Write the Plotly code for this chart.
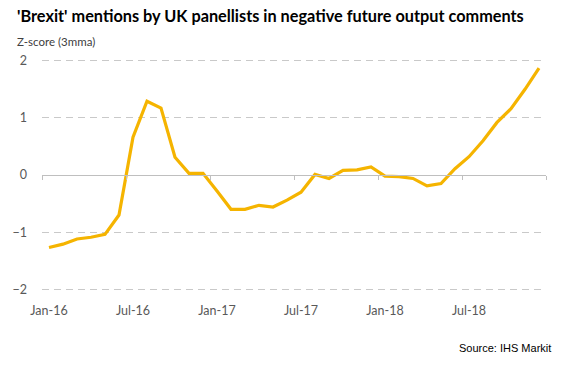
import plotly.graph_objects as go

months = ["Jan","Feb","Mar","Apr","May","Jun","Jul","Aug","Sep","Oct","Nov","Dec"]
categories = [f"{m}-{y}" for y in ("16", "17", "18") for m in months]
zscore = [-1.27, -1.21, -1.12, -1.09, -1.04, -0.70, 0.66, 1.29, 1.17, 0.31, 0.03, 0.03,
          -0.28, -0.60, -0.60, -0.53, -0.56, -0.44, -0.30, 0.01, -0.06, 0.08, 0.09, 0.14,
          -0.02, -0.03, -0.06, -0.19, -0.15, 0.11, 0.32, 0.60, 0.92, 1.16, 1.50, 1.87]
tick_labels = ["Jan-16", "Jul-16", "Jan-17", "Jul-17", "Jan-18", "Jul-18"]
y_ticks = [-2, -1, 0, 1, 2]

W, H = 566, 369
pad = 0.03
ppu = 57.0
ml, mr = 34, 20
mt = 61 - pad * ppu
mb = H - 289 - pad * ppu
pw = W - ml - mr
ph = H - mt - mb

x = list(range(len(categories)))
tickpos = [categories.index(t) for t in tick_labels]

fig = go.Figure()
fig.add_trace(go.Scatter(x=x, y=zscore, mode="lines",
                         line=dict(color="#F5B400", width=3.2),
                         hoverinfo="skip", showlegend=False))
fig.add_trace(go.Scatter(x=[-0.5, len(categories) - 0.5], y=[0, 0], xaxis="x2",
                         mode="lines", line=dict(width=0), hoverinfo="skip",
                         showlegend=False))

lab_font = dict(family="Lato, Carlito, Calibri, sans-serif", size=12.5, color="#595959")

fig.update_layout(
    width=W, height=H,
    margin=dict(l=ml, r=mr, t=mt, b=mb),
    paper_bgcolor="white", plot_bgcolor="white",
    xaxis=dict(range=[-0.5, len(categories) - 0.5], tickmode="array",
               tickvals=tickpos, ticktext=tick_labels, showgrid=False,
               zeroline=False, showline=False, ticks="",
               ticklabelstandoff=10,
               tickfont=lab_font, fixedrange=True),
    xaxis2=dict(range=[-0.5, len(categories) - 0.5], overlaying="x",
                anchor="free", position=0.5, side="bottom",
                tickmode="array",
                tickvals=[p - 0.5 for p in tickpos] + [len(categories) - 0.5],
                showticklabels=False, ticks="outside", ticklen=4,
                tickcolor="#BFBFBF", showline=True, linecolor="#BFBFBF",
                linewidth=1, showgrid=False, zeroline=False, fixedrange=True),
    yaxis=dict(range=[-2 - pad, 2 + pad], tickmode="array", tickvals=y_ticks,
               showgrid=True, gridcolor="#C9C9C9", griddash="7px,5px",
               gridwidth=1, zeroline=False, showline=False,
               ticklabelstandoff=14, tickfont=lab_font, fixedrange=True),
)

fig.add_annotation(text="<b>'Brexit' mentions by UK panellists in negative future output comments</b>",
                   xref="paper", yref="paper", x=(7 - ml) / pw, y=1 + (mt - 16) / ph,
                   xanchor="left", yanchor="middle", showarrow=False,
                   font=dict(family="Lato, Carlito, Calibri, sans-serif", size=16.3, color="#000000"))
fig.add_annotation(text="Z-score (3mma)",
                   xref="paper", yref="paper", x=(7 - ml) / pw, y=1 + (mt - 42) / ph,
                   xanchor="left", yanchor="middle", showarrow=False,
                   font=dict(family="Lato, Carlito, Calibri, sans-serif", size=11.5, color="#404040"))
fig.add_annotation(text="Source: IHS Markit",
                   xref="paper", yref="paper", x=(553 - ml) / pw, y=-(348 - (H - mb)) / ph,
                   xanchor="right", yanchor="middle", showarrow=False,
                   font=dict(family="Arial, Liberation Sans, sans-serif", size=11, color="#000000"))

fig.write_html("out.html", config={"displayModeBar": False},
               post_script="document.body.style.margin='0px';document.body.style.overflow='hidden';")
